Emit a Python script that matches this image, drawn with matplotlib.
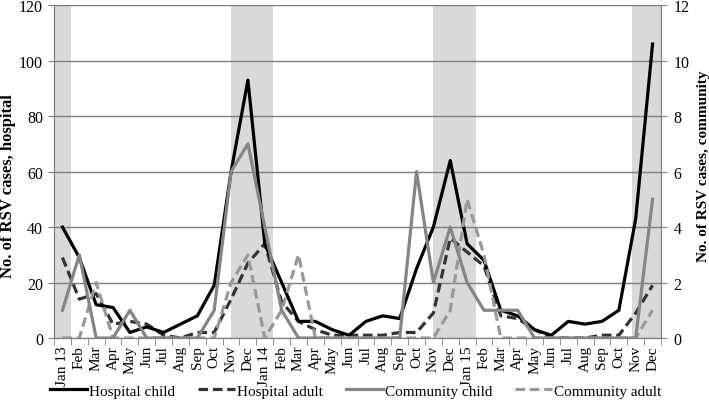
import matplotlib.pyplot as plt
import numpy as np

months = ["Jan 13", "Feb", "Mar", "Apr", "May", "Jun", "Jul", "Aug", "Sep", "Oct", "Nov", "Dec",
          "Jan 14", "Feb", "Mar", "Apr", "May", "Jun", "Jul", "Aug", "Sep", "Oct", "Nov", "Dec",
          "Jan 15", "Feb", "Mar", "Apr", "May", "Jun", "Jul", "Aug", "Sep", "Oct", "Nov", "Dec"]

# hospital counts (left axis)
hosp_child = [40, 29, 12, 11, 2, 4, 2, 5, 8, 19, 60, 93,
              34, 20, 6, 6, 3, 1, 6, 8, 7, 25, 40, 64,
              34, 28, 10, 8, 3, 1, 6, 5, 6, 10, 43, 106]
hosp_adult = [29, 14, 16, 5, 6, 5, 1, 0, 2, 2, 14, 27,
              34, 13, 6, 3, 1, 1, 1, 1, 2, 2, 9, 36,
              31, 26, 8, 7, 3, 0, 0, 0, 1, 1, 9, 19]
# community counts (right axis)
comm_child = [1, 3, 0, 0, 1, 0, 0, 0, 0, 1, 6, 7,
              4, 1, 0, 0, 0, 0, 0, 0, 0, 6, 2, 4,
              2, 1, 1, 1, 0, 0, 0, 0, 0, 0, 0, 5]
comm_adult = [0, 0, 2, 0, 0, 0, 0, 0, 0, 0, 2, 3,
              0, 1, 3, 0, 0, 0, 0, 0, 0, 0, 0, 1,
              5, 3, 0, 0, 0, 0, 0, 0, 0, 0, 0, 1]

# shaded periods (category index units)
shade = [(-0.5, 0.5), (10, 12.5), (22, 24.5), (33.8, 35.5)]

plt.rcParams['font.family'] = ['Liberation Serif', 'DejaVu Serif']

x = np.arange(len(months))

fig = plt.figure(figsize=(7.09, 4.06), dpi=100)
ax = fig.add_axes([0.0762, 0.165, 0.8561, 0.8197])
ax2 = ax.twinx()

for a, b in shade:
    ax.axvspan(a, b, color='#d9d9d9', lw=0, zorder=0)

ax.set_ylim(0, 120)
ax.set_yticks(np.arange(0, 121, 20))
ax.yaxis.grid(True, color='#7f7f7f', lw=1)
ax.set_axisbelow(True)
ax2.set_ylim(0, 12)
ax2.set_yticks(np.arange(0, 13, 2))
ax.set_xlim(-0.5, len(months) - 0.5)

l1, = ax.plot(x, hosp_child, color='black', lw=2.3, zorder=4, label='Hospital child')
l2, = ax.plot(x, hosp_adult, color='#333333', lw=2.3, ls=(0, (3, 1.5)), zorder=3, label='Hospital adult')
l3, = ax2.plot(x, comm_child, color='#858585', lw=2.3, zorder=3, label='Community child')
l4, = ax2.plot(x, comm_adult, color='#999999', lw=2.3, ls=(0, (3, 1.5)), zorder=2, label='Community adult')

ax.set_xticks(x)
ax.set_xticklabels(months, rotation=90, fontsize=11)
ax.set_xticks(np.arange(-0.5, len(months), 1), minor=True)
ax.tick_params(axis='x', which='major', length=0, pad=5)
ax.tick_params(axis='x', which='minor', length=5, color='#7f7f7f', direction='out')
ax.tick_params(axis='y', labelsize=11.5, length=4, pad=4, color='#7f7f7f')
ax2.tick_params(axis='y', labelsize=11.5, length=4, pad=5, color='#7f7f7f')

for a in (ax, ax2):
    a.spines['top'].set_visible(False)
    for s in ['left', 'right', 'bottom']:
        a.spines[s].set_color('#7f7f7f')

ax.set_ylabel('No. of RSV cases, hospital', fontsize=12, fontweight='bold')
ax.yaxis.set_label_coords(-0.063, 0.46)
ax2.set_ylabel('No. of RSV cases, community', fontsize=11, fontweight='bold')
ax2.yaxis.set_label_coords(1.059, 0.52)

fig.legend(handles=[l1, l2, l3, l4], loc='center', ncol=4, frameon=False,
           fontsize=11, handlelength=2.4, handletextpad=0.15, columnspacing=1.5,
           bbox_to_anchor=(0.502, 0.0345))

fig.savefig('out.png', dpi=100)
